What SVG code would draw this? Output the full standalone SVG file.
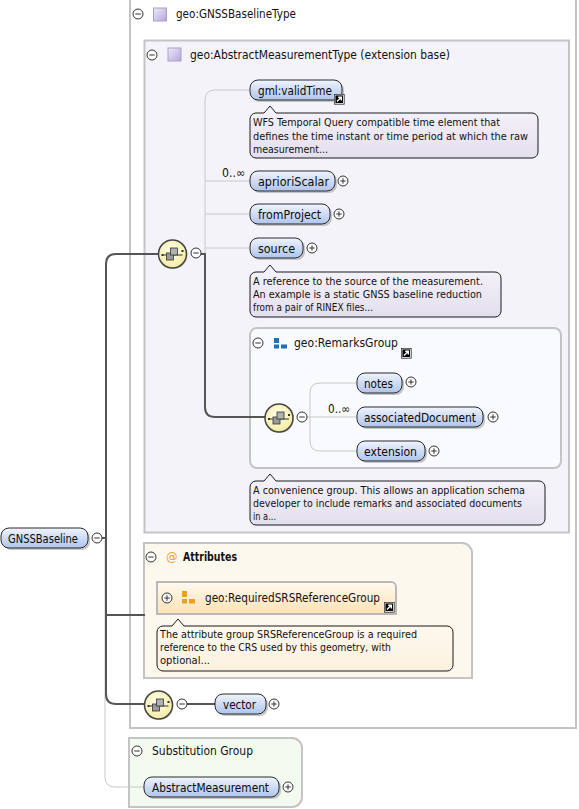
<svg xmlns="http://www.w3.org/2000/svg" xmlns:xlink="http://www.w3.org/1999/xlink" width="579" height="809" viewBox="0 0 579 809">
<style>
.t{font-family:"DejaVu Sans","Liberation Sans",sans-serif;font-size:11.5px;fill:#111}
.n{font-family:"DejaVu Sans","Liberation Sans",sans-serif;font-size:12px;fill:#0a0a0a}
.d{font-family:"DejaVu Sans","Liberation Sans",sans-serif;font-size:10.5px;fill:#111}
.box{stroke:#c4c4c4;stroke-width:2}
.pill{fill:url(#nodeGrad);stroke:#2a2a2a;stroke-width:1}
.sh{fill:#9a9a9a;opacity:0.55}
.doc{fill:url(#docGrad);stroke:#1a1a1a;stroke-width:1}
.dark{fill:none;stroke:#555;stroke-width:2}
.lite{fill:none;stroke:#c8c8c8;stroke-width:1}
.sep{stroke:url(#sepGrad);stroke-width:2}
</style>
<defs>
<linearGradient id="nodeGrad" x1="0" y1="0" x2="0" y2="1">
<stop offset="0" stop-color="#f0f4fd"/><stop offset="0.5" stop-color="#cfdcf4"/><stop offset="1" stop-color="#afc5ec"/>
</linearGradient>
<linearGradient id="docGrad" x1="0" y1="0" x2="0" y2="1">
<stop offset="0" stop-color="#f5f3fa"/><stop offset="1" stop-color="#e3dfee"/>
</linearGradient>
<linearGradient id="docGradA" x1="0" y1="0" x2="0" y2="1">
<stop offset="0" stop-color="#fffaf0"/><stop offset="1" stop-color="#fbf1df"/>
</linearGradient>
<linearGradient id="purple" x1="0" y1="0" x2="1" y2="1">
<stop offset="0" stop-color="#efeaf9"/><stop offset="1" stop-color="#b4a6da"/>
</linearGradient>
<linearGradient id="srsGrad" x1="0" y1="0" x2="0" y2="1">
<stop offset="0" stop-color="#fffaf0"/><stop offset="1" stop-color="#fbe2b3"/>
</linearGradient>
<radialGradient id="seqGrad" cx="0.45" cy="0.4" r="0.6">
<stop offset="0" stop-color="#fffef0"/><stop offset="1" stop-color="#f4ec9f"/>
</radialGradient>
<linearGradient id="sepGrad" x1="0" y1="0" x2="1" y2="0">
<stop offset="0" stop-color="#d0d0d0" stop-opacity="0.2"/><stop offset="0.3" stop-color="#d0d0d0"/><stop offset="1" stop-color="#d0d0d0" stop-opacity="0"/>
</linearGradient>
<g id="minus"><circle r="5" fill="#fff" stroke="#333" stroke-width="1"/><path d="M-2.7,0H2.7" stroke="#333" stroke-width="1"/></g>
<g id="plus"><circle r="5" fill="#fff" stroke="#333" stroke-width="1"/><path d="M-2.7,0H2.7M0,-2.7V2.7" stroke="#333" stroke-width="1"/></g>
<g id="link"><rect x="0" y="0" width="10.5" height="10.5" fill="#000"/><rect x="1" y="1" width="8.5" height="8.5" fill="none" stroke="#fff" stroke-width="0.8"/><path d="M3,7.5L7,3.5M4.2,3.3H7.3V6.4" fill="none" stroke="#fff" stroke-width="1.4"/></g>
<g id="seq">
<circle cx="1" cy="1" r="14" fill="#999" opacity="0.4"/>
<circle r="14" fill="url(#seqGrad)" stroke="#444" stroke-width="1.5"/>
<path d="M-10,1H10" stroke="#333" stroke-width="1"/>
<rect x="-11" y="0" width="2" height="2" fill="#333"/><rect x="9" y="-4" width="2" height="2" fill="#333"/>
<rect x="-6" y="-1" width="7" height="7" fill="#9a9a9a" stroke="#333" stroke-width="0.8"/>
<rect x="-2" y="-6" width="7" height="7" fill="#b0b0b0" stroke="#333" stroke-width="0.8"/>
</g>
</defs>

<rect width="579" height="809" fill="#fff"/>

<g id="GNSSBaselineType">
<rect class="box" x="130" y="-2" width="446" height="730" fill="#fff"/>
<use href="#minus" x="138" y="14"/>
<rect x="153.5" y="8" width="13" height="13" fill="url(#purple)" stroke="#a9a1c3" stroke-width="1"/>
<text class="t" x="176" y="18" textLength="120" lengthAdjust="spacingAndGlyphs">geo:GNSSBaselineType</text>
<line class="sep" x1="133" y1="29" x2="470" y2="29"/>
</g>

<g id="AbstractMeasurementType">
<rect class="box" x="144.5" y="40.5" width="424.5" height="492" fill="#f5f3fa"/>
<use href="#minus" x="152" y="55"/>
<rect x="168" y="48" width="13" height="13" fill="url(#purple)" stroke="#a9a1c3" stroke-width="1"/>
<text class="t" x="190" y="59" textLength="260" lengthAdjust="spacingAndGlyphs">geo:AbstractMeasurementType (extension base)</text>
<line class="sep" x1="147" y1="68" x2="465" y2="68"/>
</g>

<g id="RemarksGroup">
<rect class="box" x="250" y="328" width="311" height="140" rx="7" fill="#f9fafd"/>
<use href="#minus" x="258" y="343"/>
<rect x="274" y="338" width="5" height="5" fill="#1f6fb8"/>
<rect x="274" y="344.5" width="5" height="4" fill="#1f6fb8"/>
<rect x="281" y="344.5" width="6" height="4" fill="#1f6fb8"/>
<text class="t" x="294" y="347" textLength="104" lengthAdjust="spacingAndGlyphs">geo:RemarksGroup</text>
<use href="#link" x="401" y="348"/>
<line class="sep" x1="253" y1="361" x2="490" y2="361"/>
</g>

<g id="Attributes">
<path class="box" d="M144,543H462A10,10 0 0 1 472,553V678H144Z" fill="#fdf8ee"/>
<use href="#minus" x="151" y="557"/>
<text class="t" x="166" y="561" style="fill:#e8a23a">@</text>
<text class="t" x="183" y="561" font-weight="bold" textLength="54" lengthAdjust="spacingAndGlyphs">Attributes</text>
<line class="sep" x1="147" y1="571" x2="445" y2="571"/>
</g>

<g id="RequiredSRSReferenceGroup">
<path d="M157,582H391A5,5 0 0 1 396,587V614H157Z" fill="url(#srsGrad)" stroke="#b8b8b8" stroke-width="2"/>
<use href="#plus" x="167" y="598"/>
<rect x="182" y="591" width="5" height="6" fill="#eca020"/>
<rect x="182" y="599" width="5" height="4.5" fill="#eca020"/>
<rect x="189" y="599" width="6" height="4.5" fill="#eca020"/>
<text class="t" x="205" y="602" textLength="175" lengthAdjust="spacingAndGlyphs">geo:RequiredSRSReferenceGroup</text>
<use href="#link" x="384" y="602"/>
</g>

<g id="SubstitutionGroup">
<path class="box" d="M129,738H292A10,10 0 0 1 302,748V797A10,10 0 0 1 292,807H129Z" fill="#f3fbf1"/>
<use href="#minus" x="137" y="751"/>
<text class="t" x="152" y="755" textLength="101" lengthAdjust="spacingAndGlyphs">Substitution Group</text>
<line class="sep" x1="133" y1="765" x2="262" y2="765"/>
</g>

<g id="connectors">
<path class="lite" d="M105,540V777Q105,787 115,787H144"/>
<path class="dark" d="M159,254H116Q106,254 106,264V694Q106,704 116,704H145"/>
<path class="dark" d="M106,615H145"/>
<path class="dark" d="M102,538H106"/>
<path class="lite" d="M205,254V100Q205,90 215,90H250M205,181H250M205,214H250M205,248H250"/>
<path class="dark" d="M201,254H205V407Q205,417 215,417H265"/>
<path class="lite" d="M307,417H357M310,417V393Q310,383 320,383H357M310,417V441Q310,451 320,451H357"/>
<path class="dark" d="M186,704H215"/>
</g>

<g id="seq1"><use href="#seq" x="172.5" y="254"/><use href="#minus" x="196" y="253"/></g>
<g id="seq2"><use href="#seq" x="279" y="418"/><use href="#minus" x="302" y="417"/></g>
<g id="seq3"><use href="#seq" x="158.5" y="705"/><use href="#minus" x="182" y="704"/></g>

<g id="validTime">
<rect class="sh" x="252" y="82" width="92" height="20" rx="8"/>
<rect class="pill" x="250" y="80" width="92" height="20" rx="8"/>
<text class="n" x="258" y="94.5" textLength="74" lengthAdjust="spacingAndGlyphs">gml:validTime</text>
<use href="#link" x="334" y="94"/>
<path class="doc" d="M256,113H264L270,106L276,113H532A6,6 0 0 1 538,119V152A6,6 0 0 1 532,158H256A6,6 0 0 1 250,152V119A6,6 0 0 1 256,113Z"/>
<text class="d" x="253" y="126" textLength="247" lengthAdjust="spacingAndGlyphs">WFS Temporal Query compatible time element that</text>
<text class="d" x="253" y="140" textLength="275" lengthAdjust="spacingAndGlyphs">defines the time instant or time period at which the raw</text>
<text class="d" x="253" y="153" textLength="75" lengthAdjust="spacingAndGlyphs">measurement...</text>
</g>

<g id="aprioriScalar">
<text class="t" x="222" y="177" textLength="23" lengthAdjust="spacingAndGlyphs">0..∞</text>
<rect class="sh" x="252" y="173" width="85" height="20" rx="8"/>
<rect class="pill" x="250" y="171" width="85" height="20" rx="8"/>
<text class="n" x="258" y="185.5" textLength="71" lengthAdjust="spacingAndGlyphs">aprioriScalar</text>
<use href="#plus" x="343" y="181"/>
</g>

<g id="fromProject">
<rect class="sh" x="252" y="206" width="80" height="20" rx="8"/>
<rect class="pill" x="250" y="204" width="80" height="20" rx="8"/>
<text class="n" x="258" y="218.5" textLength="63" lengthAdjust="spacingAndGlyphs">fromProject</text>
<use href="#plus" x="339" y="214"/>
</g>

<g id="source">
<rect class="sh" x="252" y="240" width="53" height="20" rx="8"/>
<rect class="pill" x="250" y="238" width="53" height="20" rx="8"/>
<text class="n" x="258" y="252.5" textLength="37" lengthAdjust="spacingAndGlyphs">source</text>
<use href="#plus" x="312" y="248"/>
<path class="doc" d="M256,272H264L270,265L276,272H495A6,6 0 0 1 501,278V311A6,6 0 0 1 495,317H256A6,6 0 0 1 250,311V278A6,6 0 0 1 256,272Z"/>
<text class="d" x="253" y="285" textLength="230" lengthAdjust="spacingAndGlyphs">A reference to the source of the measurement.</text>
<text class="d" x="253" y="298" textLength="229" lengthAdjust="spacingAndGlyphs">An example is a static GNSS baseline reduction</text>
<text class="d" x="253" y="311" textLength="120" lengthAdjust="spacingAndGlyphs">from a pair of RINEX files...</text>
</g>

<g id="notes">
<rect class="sh" x="359" y="375" width="45" height="20" rx="8"/>
<rect class="pill" x="357" y="373" width="45" height="20" rx="8"/>
<text class="n" x="364" y="387.5" textLength="29" lengthAdjust="spacingAndGlyphs">notes</text>
<use href="#plus" x="411" y="382"/>
</g>

<g id="associatedDocument">
<text class="t" x="328" y="413" textLength="22" lengthAdjust="spacingAndGlyphs">0..∞</text>
<rect class="sh" x="359" y="409" width="126" height="20" rx="8"/>
<rect class="pill" x="357" y="407" width="126" height="20" rx="8"/>
<text class="n" x="364" y="421.5" textLength="112" lengthAdjust="spacingAndGlyphs">associatedDocument</text>
<use href="#plus" x="493" y="417"/>
</g>

<g id="extension">
<rect class="sh" x="359" y="443" width="68" height="20" rx="8"/>
<rect class="pill" x="357" y="441" width="68" height="20" rx="8"/>
<text class="n" x="364" y="455.5" textLength="53" lengthAdjust="spacingAndGlyphs">extension</text>
<use href="#plus" x="434" y="451"/>
</g>

<g id="remarksDoc">
<path class="doc" d="M256,481H264L270,474L276,481H539A6,6 0 0 1 545,487V519A6,6 0 0 1 539,525H256A6,6 0 0 1 250,519V487A6,6 0 0 1 256,481Z"/>
<text class="d" x="253" y="494" textLength="272" lengthAdjust="spacingAndGlyphs">A convenience group. This allows an application schema</text>
<text class="d" x="253" y="507" textLength="269" lengthAdjust="spacingAndGlyphs">developer to include remarks and associated documents</text>
<text class="d" x="253" y="520" textLength="23" lengthAdjust="spacingAndGlyphs">in a...</text>
</g>

<g id="srsDoc">
<path class="doc" style="fill:url(#docGradA)" d="M163,626H172L178,619L184,626H447A6,6 0 0 1 453,632V665A6,6 0 0 1 447,671H163A6,6 0 0 1 157,665V632A6,6 0 0 1 163,626Z"/>
<text class="d" x="160" y="638" textLength="257" lengthAdjust="spacingAndGlyphs">The attribute group SRSReferenceGroup is a required</text>
<text class="d" x="160" y="651" textLength="231" lengthAdjust="spacingAndGlyphs">reference to the CRS used by this geometry, with</text>
<text class="d" x="160" y="664" textLength="50" lengthAdjust="spacingAndGlyphs">optional...</text>
</g>

<g id="GNSSBaseline">
<rect class="sh" x="3" y="530" width="87" height="20" rx="8"/>
<rect class="pill" x="1" y="528" width="87" height="20" rx="8"/>
<text class="n" x="8" y="542.5" textLength="70" lengthAdjust="spacingAndGlyphs">GNSSBaseline</text>
<use href="#minus" x="97" y="538"/>
</g>

<g id="vector">
<rect class="sh" x="217" y="696" width="51" height="20" rx="8"/>
<rect class="pill" x="215" y="694" width="51" height="20" rx="8"/>
<text class="n" x="223" y="708.5" textLength="33" lengthAdjust="spacingAndGlyphs">vector</text>
<use href="#plus" x="274" y="704"/>
</g>

<g id="AbstractMeasurement">
<rect class="sh" x="146" y="779" width="135" height="20" rx="8"/>
<rect class="pill" x="144" y="777" width="135" height="20" rx="8"/>
<text class="n" x="152" y="791.5" textLength="117" lengthAdjust="spacingAndGlyphs">AbstractMeasurement</text>
<use href="#plus" x="288" y="787"/>
</g>
</svg>
